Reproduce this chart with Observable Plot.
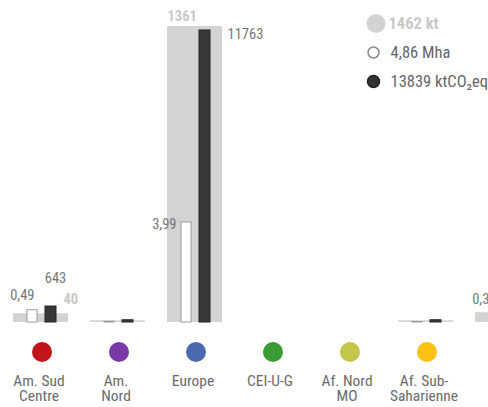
<!DOCTYPE html>
<html><head><meta charset="utf-8">
<script src="https://cdn.jsdelivr.net/npm/d3@7"></script>
<script src="https://cdn.jsdelivr.net/npm/@observablehq/plot@0.6"></script>
<style>
html,body{margin:0;padding:0;background:#fff;overflow:hidden}
#chart{width:488px;height:407px;overflow:hidden}
</style></head><body><div id="chart"></div>
<script>
// Regions (the 7th group is cut off by the right edge of the picture)
const regions = ["Am. Sud Centre", "Am. Nord", "Europe", "CEI-U-G", "Af. Nord MO", "Af. Sub-Saharienne", "Asie"];
const regionLabels = ["Am. Sud\nCentre", "Am.\nNord", "Europe", "CEI-U-G", "Af. Nord\nMO", "Af. Sub-\nSaharienne", "Asie"];
const regionColors = ["#c3141c", "#7a3aa6", "#4a69b0", "#3a9a36", "#c4c64a", "#fcc112", "#e8801c"];
// Series values
const kt = [40, 8, 1361, 0, 0, 8, 45];          // grey background bars
const mha = [0.49, 0.03, 3.99, 0, 0, 0.02, 0.33]; // white bars
const co2 = [643, 90, 11763, 0, 0, 90, 1253];    // dark bars
// Legend totals
const legendLabels = ["1462 kt", "4,86 Mha", "13839 ktCO₂eq"];
const totals = {kt: 1462, mha: 4.86, co2: 13839};
// each series is drawn on its own vertical scale (value shown at full height)
const fullScale = {kt: 1361, mha: 11.8, co2: 11924};

const series = {kt, mha, co2};
const rows = [];
regions.forEach((r, i) => {
  for (const s of ["kt", "mha", "co2"]) {
    const v = series[s][i];
    rows.push({region: r, series: s, value: v, h: v / fullScale[s], share: v / totals[s]});
  }
});
const visibleRegions = regions.slice(0, 6);
const fmt = v => String(v).replace(".", ",");
const font = "'Liberation Sans Narrow', 'Roboto Condensed', 'DejaVu Sans Condensed', sans-serif";

const labelSpecs = [
  {s: "kt",  tall: true,  dx: -27.5, dy: -10,  anchor: "start",  fill: "#c9c9c9", weight: "bold"},
  {s: "kt",  tall: false, dx: 22.5,  dy: -14.5, anchor: "start", fill: "#c9c9c9", weight: "bold"},
  {s: "mha", tall: true,  dx: -18.5, dy: 2,    anchor: "end",    fill: "#777", weight: "normal"},
  {s: "mha", tall: false, dx: -6.5,  dy: -15,  anchor: "end",    fill: "#777", weight: "normal"},
  {s: "co2", tall: true,  dx: 32.5,  dy: 4,    anchor: "start",  fill: "#777", weight: "normal"},
  {s: "co2", tall: false, dx: 14.5,  dy: -28,  anchor: "middle", fill: "#777", weight: "normal"}
];

const labelMarks = labelSpecs.map(sp => Plot.text(
  rows.filter(d => d.series === sp.s && d.share >= 0.02 && (d.h > 0.3) === sp.tall),
  {x: "region", y: "h", text: d => fmt(d.value), dx: sp.dx, dy: sp.dy, textAnchor: sp.anchor,
   lineAnchor: "middle", fill: sp.fill, fontWeight: sp.weight, fontSize: 14.5}
));

const legendSpecs = [
  {r: 9.5, fill: "#d3d3d3", stroke: "none", cx: 375.5, cy: -3, tx: 388, fill2: "#c9c9c9", weight: "bold"},
  {r: 5.5, fill: "white", stroke: "#888", cx: 373, cy: 26, tx: 390, fill2: "#666", weight: "normal"},
  {r: 6, fill: "#333", stroke: "#222", cx: 373, cy: 55, tx: 390, fill2: "#666", weight: "normal"}
];
const legendMarks = legendSpecs.flatMap((sp, i) => [
  Plot.dot([legendLabels[i]], {frameAnchor: "top-left", dx: sp.cx, dy: sp.cy, r: sp.r, fill: sp.fill, stroke: sp.stroke}),
  Plot.text([legendLabels[i]], {frameAnchor: "top-left", dx: sp.tx, dy: sp.cy, text: d => d, textAnchor: "start",
    lineAnchor: "middle", fill: sp.fill2, fontWeight: sp.weight, fontSize: 16.5})
]);

const chart = Plot.plot({
  width: 488,
  height: 407,
  marginTop: 26,
  marginBottom: 85,
  marginLeft: 0,
  marginRight: 0,
  style: {fontFamily: font, background: "white", maxWidth: "none", overflow: "hidden"},
  x: {type: "band", domain: regions, range: [0, 543], paddingInner: 0.2857, paddingOuter: 0.1688, axis: null},
  y: {domain: [0, 1], axis: null},
  marks: [
    Plot.barY(rows.filter(d => d.series === "kt" && d.value > 0), {x: "region", y: "h", fill: "#d3d3d3"}),
    Plot.barY(rows.filter(d => d.series === "mha" && d.value > 0), {x: "region", y: "h", fill: "white", stroke: "#9a9a9a", strokeWidth: 1, insetLeft: 14, insetRight: 31}),
    Plot.barY(rows.filter(d => d.series === "co2" && d.value > 0), {x: "region", y: "h", fill: "#383838", stroke: "#222", strokeWidth: 1, insetLeft: 32, insetRight: 12}),
    ...labelMarks,
    Plot.dot(regions, {x: d => d, frameAnchor: "bottom", dx: 1, dy: 29.5, r: 10, fill: (d, i) => regionColors[i]}),
    Plot.text(visibleRegions, {x: d => d, text: (d, i) => regionLabels[i], frameAnchor: "bottom", dx: -2, dy: 53.5,
      lineAnchor: "top", textAnchor: "middle", fill: "#6b6b6b", fontSize: 15.5, lineHeight: 0.94}),
    ...legendMarks
  ]
});
document.getElementById("chart").appendChild(chart);
</script></body></html>
